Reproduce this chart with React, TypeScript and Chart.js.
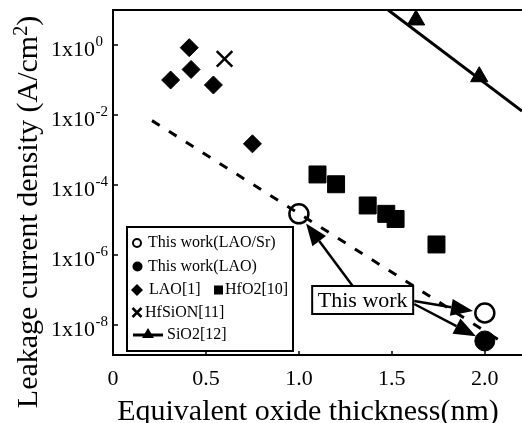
import React, { useEffect, useRef } from "react";
import { Chart, registerables } from "chart.js";

Chart.register(...registerables);

// ---- axis ticks ----
const X_TICKS = [0, 0.5, 1.0, 1.5, 2.0];
const X_TICK_LABELS = ["0", "0.5", "1.0", "1.5", "2.0"];
const Y_TICKS = [1, 1e-2, 1e-4, 1e-6, 1e-8];
const Y_TICK_EXP = ["0", "-2", "-4", "-6", "-8"];
const X_MIN = 0;
const X_MAX = 2.2;
const Y_MIN = 1.39e-9;
const Y_MAX = 10;

// ---- series ----
const LAO_SR_X = [1.0, 2.0];
const LAO_SR_Y = [1.5e-5, 2.2e-8];
const LAO_X = [2.0];
const LAO_Y = [3.5e-9];
const LAO1_X = [0.31, 0.41, 0.42, 0.54, 0.75];
const LAO1_Y = [0.1, 0.84, 0.2, 0.072, 1.5e-3];
const HFO2_X = [1.1, 1.2, 1.37, 1.47, 1.52, 1.74];
const HFO2_Y = [2.0e-4, 1.05e-4, 2.6e-5, 1.5e-5, 1.07e-5, 2.0e-6];
const HFSION_X = [0.6];
const HFSION_Y = [0.4];
const SIO2_X = [1.63, 1.97];
const SIO2_Y = [5.2, 0.124];
const SIO2_FIT_X = [1.48, 2.2];
const SIO2_FIT_Y = [10, 0.013];
const TREND_X = [0.21, 2.1];
const TREND_Y = [6.9e-3, 3.1e-9];

// ---- annotation ----
const ANNOT_TEXT = "This work";
const ANNOT_X = 1.343;
const ANNOT_Y = 5.18e-8;

const LEGEND_LABELS = [
  "This work(LAO/Sr)",
  "This work(LAO)",
  "LAO[1]",
  "HfO2[10]",
  "HfSiON[11]",
  "SiO2[12]",
];

const X_TITLE = "Equivalent oxide thickness(nm)";
const Y_TITLE_MAIN = "Leakage current density (A/cm";
const Y_TITLE_SUP = "2";
const Y_TITLE_END = ")";

const FONT = "'Liberation Serif', 'Times New Roman', serif";

const pts = (xs: number[], ys: number[]) => xs.map((x, i) => ({ x, y: ys[i] }));

function drawArrow(ctx: CanvasRenderingContext2D, x1: number, y1: number, tx: number, ty: number, back: number) {
  const ang = Math.atan2(ty - y1, tx - x1);
  const x2 = tx - Math.cos(ang) * back;
  const y2 = ty - Math.sin(ang) * back;
  const hl = 22;
  const hw = 8.5;
  const bx = x2 - Math.cos(ang) * hl;
  const by = y2 - Math.sin(ang) * hl;
  ctx.beginPath();
  ctx.moveTo(x1, y1);
  ctx.lineTo(bx, by);
  ctx.stroke();
  ctx.beginPath();
  ctx.moveTo(x2, y2);
  ctx.lineTo(bx - Math.sin(ang) * hw, by + Math.cos(ang) * hw);
  ctx.lineTo(bx + Math.sin(ang) * hw, by - Math.cos(ang) * hw);
  ctx.closePath();
  ctx.fill();
}

const overlay = {
  id: "overlay",
  afterDatasetsDraw(chart: any) {
    const ctx: CanvasRenderingContext2D = chart.ctx;
    const xs = chart.scales.x;
    const ys = chart.scales.y;
    const { left, top, right, bottom } = chart.chartArea;
    ctx.save();
    ctx.strokeStyle = "#000";
    ctx.fillStyle = "#000";

    // frame
    ctx.lineWidth = 2;
    ctx.beginPath();
    ctx.moveTo(right, top);
    ctx.lineTo(left, top);
    ctx.lineTo(left, bottom);
    ctx.lineTo(right, bottom);
    ctx.stroke();

    // inward ticks
    ctx.lineWidth = 1.5;
    Y_TICKS.forEach((v) => {
      const py = Math.round(ys.getPixelForValue(v));
      ctx.beginPath();
      ctx.moveTo(left, py);
      ctx.lineTo(left + 5, py);
      ctx.stroke();
    });
    X_TICKS.forEach((v) => {
      const px = Math.round(xs.getPixelForValue(v));
      ctx.beginPath();
      ctx.moveTo(px, bottom);
      ctx.lineTo(px, bottom - 4);
      ctx.stroke();
    });

    // y tick labels
    ctx.textBaseline = "alphabetic";
    Y_TICKS.forEach((v, i) => {
      const py = ys.getPixelForValue(v);
      ctx.font = `22px ${FONT}`;
      ctx.textAlign = "right";
      ctx.fillText("1x10", left - 18, py + 11);
      ctx.font = `15px ${FONT}`;
      ctx.textAlign = "left";
      ctx.fillText(Y_TICK_EXP[i], left - 17.5, py + 1);
    });

    // x tick labels
    ctx.font = `22px ${FONT}`;
    ctx.textAlign = "center";
    X_TICKS.forEach((v, i) => {
      const px = xs.getPixelForValue(v);
      ctx.fillText(X_TICK_LABELS[i], px, bottom + 30);
    });

    // x title
    ctx.font = `30px ${FONT}`;
    ctx.textAlign = "center";
    ctx.fillText(X_TITLE, 308, bottom + 65);

    // y title
    ctx.save();
    ctx.translate(37, 212);
    ctx.rotate(-Math.PI / 2);
    ctx.textAlign = "left";
    ctx.font = `30px ${FONT}`;
    const w1 = ctx.measureText(Y_TITLE_MAIN).width;
    const w3 = ctx.measureText(Y_TITLE_END).width;
    ctx.font = `20px ${FONT}`;
    const w2 = ctx.measureText(Y_TITLE_SUP).width;
    let sx = -(w1 + w2 + w3) / 2;
    ctx.font = `30px ${FONT}`;
    ctx.fillText(Y_TITLE_MAIN, sx, 0);
    sx += w1;
    ctx.font = `20px ${FONT}`;
    ctx.fillText(Y_TITLE_SUP, sx, -10);
    sx += w2;
    ctx.font = `30px ${FONT}`;
    ctx.fillText(Y_TITLE_END, sx, 0);
    ctx.restore();

    // "This work" annotation + arrows
    const cx = xs.getPixelForValue(ANNOT_X);
    const cy = ys.getPixelForValue(ANNOT_Y);
    const bw = 101;
    const bh = 28;
    ctx.lineWidth = 2.5;
    drawArrow(ctx, cx - 10, cy - bh / 2, xs.getPixelForValue(LAO_SR_X[0]), ys.getPixelForValue(LAO_SR_Y[0]), 12);
    drawArrow(ctx, cx + bw / 2 + 1, cy + 1, xs.getPixelForValue(LAO_SR_X[1]), ys.getPixelForValue(LAO_SR_Y[1]), 12);
    drawArrow(ctx, cx + bw / 2 + 1, cy + 4, xs.getPixelForValue(LAO_X[0]), ys.getPixelForValue(LAO_Y[0]), 10);
    ctx.fillStyle = "#fff";
    ctx.fillRect(cx - bw / 2, cy - bh / 2, bw, bh);
    ctx.lineWidth = 2;
    ctx.strokeRect(cx - bw / 2, cy - bh / 2, bw, bh);
    ctx.fillStyle = "#000";
    ctx.font = `22px ${FONT}`;
    ctx.textAlign = "center";
    ctx.textBaseline = "middle";
    ctx.fillText(ANNOT_TEXT, cx, cy + 1);

    // legend
    const lx = left + 14;
    const ly = top + 217;
    ctx.fillStyle = "#fff";
    ctx.fillRect(lx, ly, 166, 124);
    ctx.lineWidth = 2;
    ctx.strokeRect(lx, ly, 166, 124);
    ctx.fillStyle = "#000";
    ctx.font = `16px ${FONT}`;
    ctx.textAlign = "left";
    ctx.textBaseline = "middle";
    const rows = [ly + 16, ly + 39.5, ly + 63, ly + 85.5, ly + 108];
    const mx = lx + 10;
    // row 1 open circle
    ctx.lineWidth = 2;
    ctx.beginPath();
    ctx.arc(mx, rows[0], 4, 0, Math.PI * 2);
    ctx.stroke();
    ctx.fillText(LEGEND_LABELS[0], lx + 21, rows[0]);
    // row 2 filled circle
    ctx.beginPath();
    ctx.arc(mx + 0.5, rows[1], 5, 0, Math.PI * 2);
    ctx.fill();
    ctx.fillText(LEGEND_LABELS[1], lx + 21, rows[1]);
    // row 3 diamond + square
    ctx.beginPath();
    ctx.moveTo(mx, rows[2] - 6);
    ctx.lineTo(mx + 6, rows[2]);
    ctx.lineTo(mx, rows[2] + 6);
    ctx.lineTo(mx - 6, rows[2]);
    ctx.closePath();
    ctx.fill();
    ctx.fillText(LEGEND_LABELS[2], lx + 22, rows[2]);
    ctx.fillRect(lx + 87, rows[2] - 4.5, 9, 9);
    ctx.fillText(LEGEND_LABELS[3], lx + 98, rows[2]);
    // row 4 cross
    ctx.lineWidth = 2.5;
    ctx.beginPath();
    ctx.moveTo(mx - 4.5, rows[3] - 4.5);
    ctx.lineTo(mx + 4.5, rows[3] + 4.5);
    ctx.moveTo(mx + 4.5, rows[3] - 4.5);
    ctx.lineTo(mx - 4.5, rows[3] + 4.5);
    ctx.stroke();
    ctx.fillText(LEGEND_LABELS[4], lx + 18, rows[3]);
    // row 5 line + triangle
    ctx.lineWidth = 3;
    ctx.beginPath();
    ctx.moveTo(lx + 6, rows[4]);
    ctx.lineTo(lx + 36, rows[4]);
    ctx.stroke();
    ctx.beginPath();
    ctx.moveTo(lx + 21, rows[4] - 7);
    ctx.lineTo(lx + 27, rows[4] + 3);
    ctx.lineTo(lx + 15, rows[4] + 3);
    ctx.closePath();
    ctx.fill();
    ctx.fillText(LEGEND_LABELS[5], lx + 40, rows[4]);

    ctx.restore();
  },
};

export default function App() {
  const ref = useRef<HTMLCanvasElement | null>(null);

  useEffect(() => {
    document.body.style.margin = "0";
    const canvas = ref.current;
    if (!canvas) return;
    const black = "#000";
    const chart = new Chart(canvas, {
      type: "scatter",
      data: {
        datasets: [
          {
            label: "trend",
            data: pts(TREND_X, TREND_Y),
            showLine: true,
            borderColor: black,
            borderWidth: 3,
            borderDash: [9, 11],
            pointRadius: 0,
            order: 0,
          },
          {
            label: LEGEND_LABELS[0],
            data: pts(LAO_SR_X, LAO_SR_Y),
            pointStyle: "circle",
            pointRadius: 9.5,
            pointBackgroundColor: "#fff",
            pointBorderColor: black,
            pointBorderWidth: 2.5,
            order: 1,
          },
          {
            label: LEGEND_LABELS[1],
            data: pts(LAO_X, LAO_Y),
            pointStyle: "circle",
            pointRadius: 10,
            pointBackgroundColor: black,
            pointBorderColor: black,
            pointBorderWidth: 1,
            order: 1,
          },
          {
            label: LEGEND_LABELS[2],
            data: pts(LAO1_X, LAO1_Y),
            pointStyle: "rectRot",
            pointRadius: 9,
            pointBackgroundColor: black,
            pointBorderColor: black,
            pointBorderWidth: 1,
            order: 1,
          },
          {
            label: LEGEND_LABELS[3],
            data: pts(HFO2_X, HFO2_Y),
            pointStyle: "rect",
            pointRadius: 12,
            pointBackgroundColor: black,
            pointBorderColor: black,
            pointBorderWidth: 1,
            order: 1,
          },
          {
            label: LEGEND_LABELS[4],
            data: pts(HFSION_X, HFSION_Y),
            pointStyle: "crossRot",
            pointRadius: 11,
            pointBackgroundColor: black,
            pointBorderColor: black,
            pointBorderWidth: 2.5,
            order: 1,
          },
          {
            label: "SiO2 fit",
            data: pts(SIO2_FIT_X, SIO2_FIT_Y),
            showLine: true,
            borderColor: black,
            borderWidth: 3,
            pointRadius: 0,
            order: 2,
          },
          {
            label: LEGEND_LABELS[5],
            data: pts(SIO2_X, SIO2_Y),
            pointStyle: "triangle",
            pointRadius: 10,
            pointBackgroundColor: black,
            pointBorderColor: black,
            pointBorderWidth: 1,
            order: 1,
          },
        ],
      },
      options: {
        responsive: false,
        animation: false,
        devicePixelRatio: 1,
        events: [],
        layout: { autoPadding: false, padding: { left: 113, right: 0, top: 10, bottom: 68 } },
        plugins: {
          legend: { display: false },
          tooltip: { enabled: false },
        },
        scales: {
          x: { type: "linear", min: X_MIN, max: X_MAX, display: false },
          y: { type: "logarithmic", min: Y_MIN, max: Y_MAX, display: false },
        },
      },
      plugins: [overlay],
    });
    return () => chart.destroy();
  }, []);

  return (
    <div style={{ width: 522, height: 423, background: "#fff" }}>
      <canvas ref={ref} width={522} height={423} style={{ display: "block" }} />
    </div>
  );
}
